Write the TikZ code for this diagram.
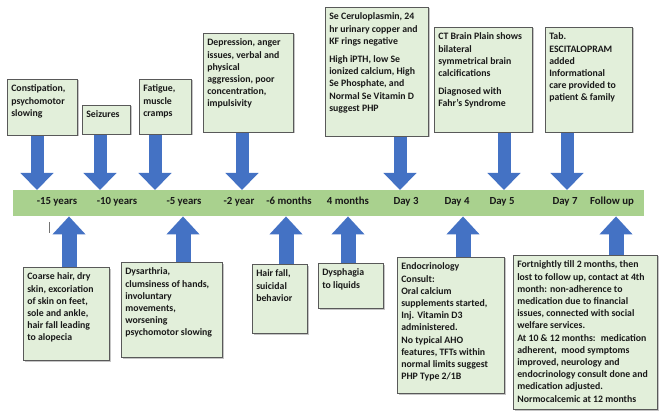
\documentclass[tikz,border=0pt]{standalone}
\usepackage{fontspec}
\setmainfont{Carlito}
\usetikzlibrary{arrows.meta,shadows}
\definecolor{bargreen}{HTML}{A9D18E}
\definecolor{boxgreen}{HTML}{E2EFDA}
\definecolor{arrowblue}{HTML}{4472C4}
\newcommand{\bt}[3]{\parbox[t][#2][t]{#1}{\raggedright\strut #3}}
\begin{document}
\begin{tikzpicture}[x=1pt,y=-1pt,
  box/.style={draw=black!65,line width=0.6pt,fill=boxgreen,inner sep=4pt,anchor=north west,
    drop shadow={shadow xshift=1.2pt,shadow yshift=-1.2pt,fill=black!45},
    font=\fontsize{9.8}{12.2}\selectfont\bfseries,text=black!90},
  dn/.style={arrowblue,line width=13pt,-{Triangle[width=32pt,length=17pt]}},
  up/.style={arrowblue,line width=15pt,-{Triangle[width=32pt,length=18pt]}},
  yr/.style={anchor=base,font=\fontsize{10.8}{13}\selectfont\bfseries,text=black!90}]
\useasboundingbox (0,0) rectangle (660,411);
\node [fill=bargreen,minimum width=631pt,minimum height=26pt,inner sep=0pt,anchor=north west] (bar) at (13,190) {};
\node [yr] (m15) at (57,204.5) {-15 years};
\node [yr] (m10) at (117,204.5) {-10 years};
\node [yr] (m5) at (184,204.5) {-5 years};
\node [yr] (m2) at (239,204.5) {-2 year};
\node [yr] (m6) at (289,204.5) {-6 months};
\node [yr] (p4) at (348,204.5) {4 months};
\node [yr] (d3) at (406,204.5) {Day 3};
\node [yr] (d4) at (457,204.5) {Day 4};
\node [yr] (d5) at (502,204.5) {Day 5};
\node [yr] (d7) at (565,204.5) {Day 7};
\node [yr] (fu) at (612,204.5) {Follow up};
\node [box] (a) at (7,79) {\bt{62pt}{48pt}{Constipation,\\ psychomotor\\ slowing}};
\node [box] (b) at (82,105) {\bt{40pt}{21pt}{Seizures}};
\node [box] (c) at (139,79) {\bt{44pt}{47pt}{Fatigue,\\ muscle\\ cramps}};
\node [box] (d) at (203,33) {\bt{82pt}{91pt}{Depression, anger\\ issues, verbal and\\ physical\\ aggression, poor\\ concentration,\\ impulsivity}};
\node [box] (e) at (325,7) {\bt{95pt}{121pt}{Se Ceruloplasmin, 24\\ hr urinary copper and\\ KF rings negative\\[6pt] High iPTH, low Se\\ ionized calcium, High\\ Se Phosphate, and\\ Normal Se Vitamin D\\ suggest PHP}};
\node [box] (f) at (434,27) {\bt{90pt}{97pt}{CT Brain Plain shows\\ bilateral\\ symmetrical brain\\ calcifications\\[6pt] Diagnosed with\\ Fahr’s Syndrome}};
\node [box] (g) at (545,27) {\bt{79pt}{97pt}{Tab.\\ ESCITALOPRAM\\ added\\ Informational\\ care provided to\\ patient \& family}};
\node [box] (h) at (23,267) {\bt{78pt}{85pt}{Coarse hair, dry\\ skin, excoriation\\ of skin on feet,\\ sole and ankle,\\ hair fall leading\\ to alopecia}};
\node [box] (i) at (121,262) {\bt{93pt}{87pt}{Dysarthria,\\ clumsiness of hands,\\ involuntary\\ movements,\\ worsening\\ psychomotor slowing}};
\node [box] (j) at (252,264) {\bt{47pt}{61pt}{Hair fall,\\ suicidal\\ behavior}};
\node [box] (k) at (318,263) {\bt{57pt}{37pt}{Dysphagia\\ to liquids}};
\node [box] (l) at (397,257) {\bt{99pt}{128pt}{Endocrinology\\ Consult:\\ Oral calcium\\ supplements started,\\ Inj. Vitamin D3\\ administered.\\ No typical AHO\\ features, TFTs within\\ normal limits suggest\\ PHP Type 2/1B}};
\node [box] (n) at (513,255) {\bt{136pt}{146pt}{Fortnightly till 2 months, then\\ lost to follow up, contact at 4th\\ month: non-adherence to\\ medication due to financial\\ issues, connected with social\\ welfare services.\\ At 10 \& 12 months:~ medication\\ adherent,~ mood symptoms\\ improved, neurology and\\ endocrinology consult done and\\ medication adjusted.\\ Normocalcemic at 12 months}};
\draw [dn] (a.south -| 37,0) -- (37,0 |- bar.north);
\draw [dn] (b.south -| 100,0) -- (100,0 |- bar.north);
\draw [dn] (c.south -| 155,0) -- (155,0 |- bar.north);
\draw [dn] (d.south -| 242,0) -- (242,0 |- bar.north);
\draw [dn] (e.south -| 400,0) -- (400,0 |- bar.north);
\draw [dn] (f.south -| 504,0) -- (504,0 |- bar.north);
\draw [dn] (g.south -| 567,0) -- (567,0 |- bar.north);
\draw [up] (h.north -| 69,0) -- (69,0 |- bar.south);
\draw [up] (i.north -| 183,0) -- (183,0 |- bar.south);
\draw [up] (j.north -| 286,0) -- (286,0 |- bar.south);
\draw [up] (k.north -| 348,0) -- (348,0 |- bar.south);
\draw [up] (l.north -| 463,0) -- (463,0 |- bar.south);
\draw [up] (n.north -| 616,0) -- (616,0 |- bar.south);
\draw [black!55,line width=0.8pt] (49,222) -- (49,233);
\end{tikzpicture}
\end{document}
